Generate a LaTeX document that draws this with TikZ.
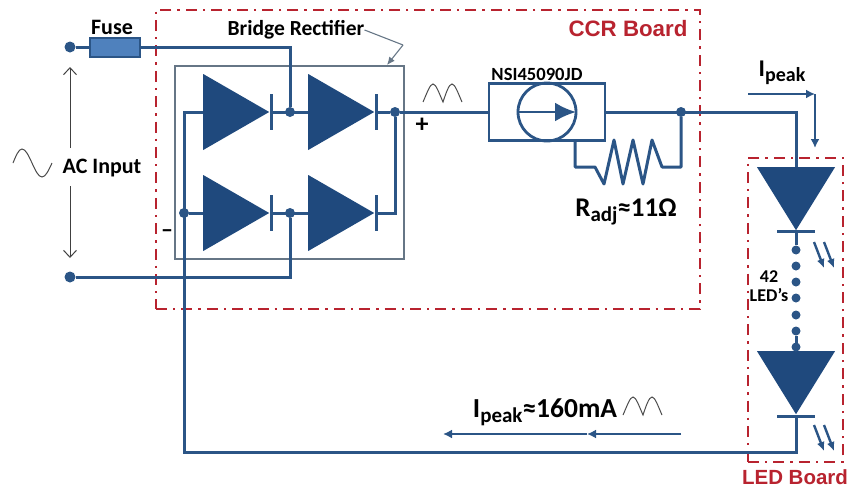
\documentclass[tikz,border=0pt]{standalone}
\usepackage{fontspec}
\setmainfont{Carlito}
\newfontfamily\boardfont{Liberation Sans}
\usetikzlibrary{positioning,shapes.geometric,arrows.meta}
\definecolor{wireblue}{HTML}{2B5586}
\definecolor{diodeblue}{HTML}{1F497D}
\definecolor{fuseblue}{HTML}{4F81BD}
\definecolor{boardred}{HTML}{B8232F}
\definecolor{boxgray}{HTML}{667686}
\newcommand{\sz}[1]{\fontsize{#1}{#1}\selectfont}
\tikzset{
  every node/.style={text=black, inner sep=0pt},
  wire/.style={draw=wireblue, line width=3pt},
  board/.style={draw=boardred, line width=2.2pt, dash pattern=on 11pt off 6pt on 2.4pt off 6pt},
  diode/.style={isosceles triangle, isosceles triangle stretches, fill=diodeblue, anchor=lower side,
    minimum width=76pt, minimum height=66pt},
  led/.style={diode, shape border rotate=270, minimum width=78pt, minimum height=63pt},
  bar/.style={fill=wireblue, minimum width=3pt, minimum height=36pt},
  ledbar/.style={fill=wireblue, minimum width=38pt, minimum height=3pt},
  dot/.style={circle, fill=wireblue, minimum size=#1},
  dot/.default=10pt,
  label/.style={font=\sz{#1}\bfseries},
  ray/.style={draw=wireblue, line width=2.4pt, -{Latex[length=9pt,width=8pt]}},
  current/.style={draw=wireblue, line width=1.8pt, -{Latex[length=9pt,width=9pt]}},
  acarrow/.style={draw=black!75, line width=1pt, -{Straight Barb[length=7pt,width=13pt]}},
  humps/.pic={
    \draw[black!70, line width=1pt] (0,0) .. controls (4,-9) and (7,-18) .. (10,-18)
      .. controls (13,-18) and (16,-9) .. (20,0)
      .. controls (23,-9) and (26,-18) .. (29,-18)
      .. controls (32,-18) and (35,-9) .. (39,0);
  }
}

\begin{document}
\begin{tikzpicture}[x=1pt, y=-1pt]
  \useasboundingbox (0,0) rectangle (853,490);

  % Boards
  \node (rectbox) [draw=boxgray, line width=1.1pt, minimum width=229pt, minimum height=193pt] at (289.5,162.5) {};
  \node (ccr) [board, minimum width=544pt, minimum height=299pt] at (428,159.5) {};
  \node (ledboard) [board, minimum width=95pt, minimum height=304pt] at (795.5,310) {};

  % Nodes
  \node (acTop) [dot=11pt] at (70,47) {};
  \node (acBottom) [dot=11pt] at (70,277) {};
  \node (fuse) [draw=wireblue, fill=fuseblue, line width=2pt, minimum width=50pt, minimum height=19pt, right=13pt of acTop] {};

  \node (d1) [diode] at (203,112) {};
  \node (d2) [diode] at (308,112) {};
  \node (d3) [diode] at (203,213) {};
  \node (d4) [diode] at (308,213) {};
  \node (b1) [bar] at (271,112) {};
  \node (b2) [bar] at (376,112) {};
  \node (b3) [bar] at (271,213) {};
  \node (b4) [bar] at (376,213) {};

  \node (jTop) [dot] at (290,112) {};
  \node (jBottom) [dot] at (290,213) {};
  \node (jLeft) [dot] at (184,213) {};
  \node (jRight) [dot] at (395,112) {};
  \node (jOut) [dot] at (681,112) {};
  \coordinate (cLeftTop) at (184,112);
  \coordinate (cLeftEnd) at (184,452);
  \coordinate (cRightLow) at (395,213);
  \coordinate (cOutCorner) at (796,112);
  \coordinate (cBackCorner) at (796,452);

  % Regulator
  \node (ccrbox) [draw=wireblue, line width=2.8pt, minimum width=116pt, minimum height=57pt] at (547,112) {};
  \node (source) [circle, draw=wireblue, line width=2.8pt, minimum size=58pt] at (547,112) {};
  \coordinate (cRadjTop) at (575,140);
  \coordinate (cRadjLeft) at (575,167);
  \coordinate (cRadjRight) at (681,167);

  % LED string
  \node (led1) [led] at (796,167) {};
  \node (lbar1) [ledbar] at (796,231) {};
  \node (led2) [led] at (796,351) {};
  \node (lbar2) [ledbar] at (796,416) {};
  \foreach \i/\y in {1/250,2/266,3/282,4/298,5/315,6/331,7/347}
    \node (s\i) [dot=9pt] at (796,\y) {};

  % Wires
  \draw[wire] (acTop) -- (fuse);
  \draw[wire] (fuse) -| (jTop);
  \draw[wire] (acBottom) -| (jBottom);
  \draw[wire] (b1) -- (d2.lower side);
  \draw[wire] (b2) -- (jRight) -- (ccrbox);
  \draw[wire] (b3) -- (d4.lower side);
  \draw[wire] (b4) -- (cRightLow) -- (jRight);
  \draw[wire] (d1.lower side) -- (cLeftTop) -- (cLeftEnd) -- (cBackCorner) -- (lbar2);
  \draw[wire] (jLeft) -- (d3.lower side);
  \draw[wire] (ccrbox) -- (cOutCorner) -- (led1.lower side);
  \draw[wire] (lbar1) -- (s1);
  \draw[wire] (s6) -- (led2.lower side);
  \draw[wire, line join=round] (cRadjTop) -- (cRadjLeft) -- (595,167) -- (604,184) -- (614,140) -- (623,184)
    -- (633,140) -- (643,184) -- (652,140) -- (662,167) -- (cRadjRight) -- (jOut);

  % Source arrow
  \coordinate (cArrowEnd) at (576,112);
  \draw[draw=wireblue, line width=2.8pt, -{Latex[length=21pt,width=19pt]}] (source.west) -- (cArrowEnd);

  % Current arrows
  \coordinate (cPeakStart) at (748,94);
  \coordinate (cPeakCorner) at (815,94);
  \coordinate (cPeakEnd) at (815,148);
  \draw[current] (cPeakStart) -- (cPeakCorner);
  \draw[current] (cPeakCorner) -- (cPeakEnd);
  \coordinate (cBackStart) at (681,434);
  \coordinate (cBackMid) at (587,434);
  \coordinate (cBackEnd) at (443,434);
  \draw[current] (cBackStart) -- (cBackMid);
  \draw[current] (cBackMid) -- (cBackEnd);

  % LED rays
  \foreach \n/\x/\y in {a/814/242,b/824/242,c/814/425,d/824/425} {
    \coordinate (r\n0) at (\x,\y);
    \coordinate (r\n1) at (\x+10,\y+26);
    \draw[ray] (r\n0) -- (r\n1);
  }

  % Labels
  \node (fuselabel) [label=22] at (112,27) {Fuse};
  \node (bridgelabel) [label=21.5] at (296,30) {Bridge Rectifier};
  \node (aclabel) [label=22] at (102,168) {AC Input};
  \node (pluslabel) [label=26] at (422,125) {+};
  \node (minuslabel) [label=24] at (167,234) {–};
  \node (nsilabel) [label=18.6] at (537,74) {NSI45090JD};
  \node (radjlabel) [label=27] at (626,212) {R\raisebox{-5pt}{\sz{21}adj}≈11Ω};
  \node (ipeaklabel) [label=24] at (782,73) {I\raisebox{-5pt}{\sz{20}peak}};
  \node (backlabel) [label=27.5] at (545,412) {I\raisebox{-5pt}{\sz{21}peak}≈160mA};
  \node (ledslabel) [label=18, align=center] at (769,286) {42\\[1pt]LED’s};
  \node (ccrlabel) [text=boardred, font=\boardfont\sz{22.3}\bfseries] at (628,29) {CCR Board};
  \node (ledlabel) [text=boardred, font=\boardfont\sz{20.5}\bfseries] at (795,477.5) {LED Board};

  % AC input arrows
  \coordinate (cAcUpStart) at (70,148);
  \coordinate (cAcUpEnd) at (70,67);
  \coordinate (cAcDownStart) at (70,186);
  \coordinate (cAcDownEnd) at (70,258);
  \draw[acarrow] (cAcUpStart) -- (cAcUpEnd);
  \draw[acarrow] (cAcDownStart) -- (cAcDownEnd);

  % Bridge pointer
  \coordinate (cPointer) at (403,45);
  \coordinate (cPointerEnd) at (387,65);
  \draw[draw=boxgray, line width=1.1pt] (bridgelabel.east) -- (cPointer);
  \draw[draw=boxgray, line width=1.1pt, -{Latex[length=8pt,width=7pt]}] (cPointer) -- (cPointerEnd);

  % Waveforms
  \draw[black!70, line width=1pt] (13,163) sin (22,149) cos (32,163) sin (42,177) cos (52,163);
  \pic at (423,102) {humps};
  \pic at (623,415) {humps};
\end{tikzpicture}
\end{document}
